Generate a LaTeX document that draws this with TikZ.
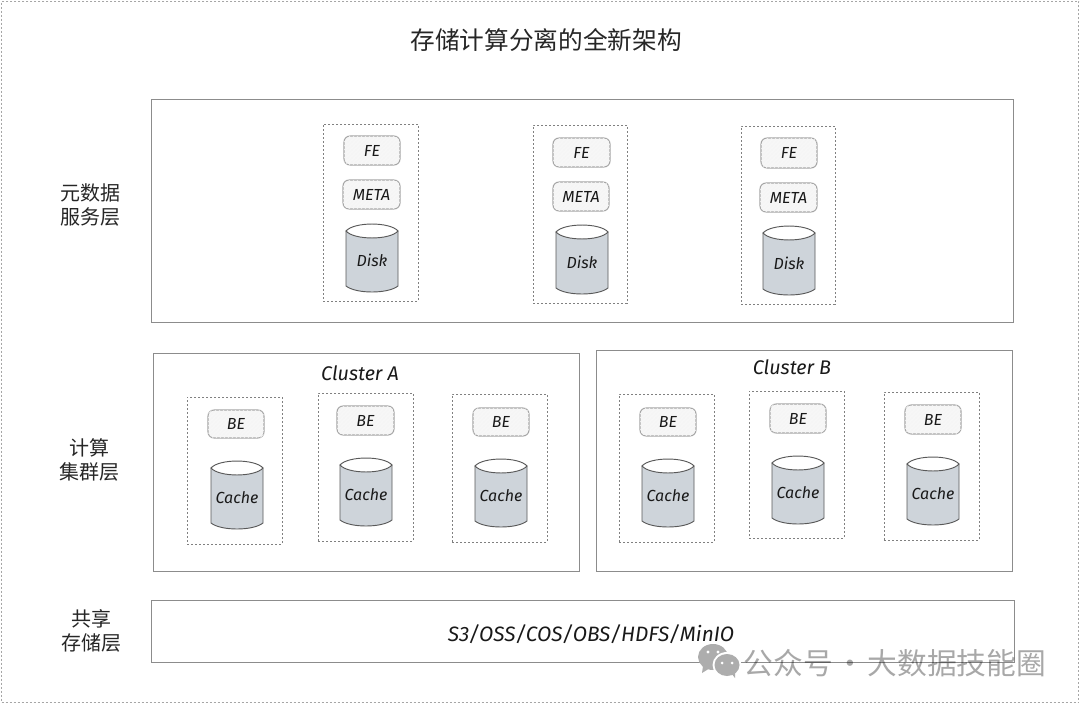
\documentclass[tikz,border=0pt]{standalone}
\usepackage{fontspec}
\usetikzlibrary{patterns}
\setmainfont{Fira Sans}
\newfontfamily\cjk{Noto Sans CJK SC}
\tikzset{x=0.75pt,y=-0.75pt,
  title/.style={font=\cjk\fontsize{18.5}{22}\selectfont,text=black!85,inner sep=0},
  layerlabel/.style={font=\cjk\fontsize{15}{18.2}\selectfont,text=black!85,align=center,inner sep=0},
  panel/.style={draw=black!45,line width=0.75pt,fill=white},
  groupbox/.style={draw=black!50,line width=0.5pt,dash pattern=on 1.5pt off 1.5pt},
  svc/.style={draw=black!35,line width=0.8pt,rounded corners=4.5pt,fill=black!3,postaction={pattern=north east lines,pattern color=black!4}},
  hand/.style={font=\itshape\fontsize{12}{14}\selectfont,text=black!90,inner sep=0},
  handbig/.style={font=\itshape\fontsize{14.8}{16}\selectfont,text=black!90,inner sep=0},
  cylbody/.style={draw=black!65,line width=0.7pt,fill=cylfill},
  wm/.style={font=\cjk\fontsize{22.3}{24}\selectfont,text=black,opacity=.34,inner sep=0}
}
\definecolor{cylfill}{HTML}{CED4DA}
% name, x0, y0, x1, y1, text
\newcommand{\svcbox}[6]{\node[svc,minimum width=#4*0.75pt-#2*0.75pt,minimum height=#5*0.75pt-#3*0.75pt,inner sep=0,hand] (#1) at ({(#2+#4)/2},{(#3+#5)/2}) {#6};}
% name, x0, top, x1, bottom, text
\newcommand{\cyl}[6]{%
  \path[cylbody] (#2,#3+7) -- (#2,#5-6) .. controls (#2+10,#5+2) and (#4-10,#5+2) .. (#4,#5-6) -- (#4,#3+7) -- cycle;
  \path[draw=black!65,line width=0.7pt,fill=white] (#2,#3+7) .. controls (#2+8,#3-2.3) and (#4-8,#3-2.3) .. (#4,#3+7) .. controls (#4-8,#3+16.3) and (#2+8,#3+16.3) .. (#2,#3+7) -- cycle;
  \node[hand] (#1) at ({(#2+#4)/2},{(#3+#5)/2+2.5}) {#6};}
\newcommand{\grp}[5]{\node[groupbox,minimum width=#4*0.75pt-#2*0.75pt,minimum height=#5*0.75pt-#3*0.75pt,inner sep=0] (#1) at ({(#2+#4)/2},{(#3+#5)/2}) {};}
\newcommand{\pnl}[5]{\node[panel,minimum width=#4*0.75pt-#2*0.75pt,minimum height=#5*0.75pt-#3*0.75pt,inner sep=0] (#1) at ({(#2+#4)/2},{(#3+#5)/2}) {};}
\begin{document}
\begin{tikzpicture}
\useasboundingbox (0,0) rectangle (1080,706);
\fill[white] (0,0) rectangle (1080,706);
\node[groupbox,draw=black!35,minimum width=1077*0.75pt,minimum height=701*0.75pt,inner sep=0] (outer) at (540,352) {};
\node[title] (ttl) at (546,40) {存储计算分离的全新架构};
\node[layerlabel] (l1) at (90,205) {元数据\\服务层};
\node[layerlabel] (l2) at (89,460) {计算\\集群层};
\node[layerlabel] (l3) at (91,631) {共享\\存储层};
\pnl{meta}{151}{100}{1013}{322}
\pnl{ca}{153}{353}{579}{571}
\pnl{cb}{596}{350}{1012}{571}
\pnl{store}{151}{600}{1014}{662}
% metadata groups
\grp{m1}{323}{124}{418}{301}
\svcbox{fe1}{344}{136}{400}{165}{FE}
\svcbox{mt1}{343}{180}{400}{209}{META}
\cyl{d1}{346}{224}{398}{292}{Disk}
\grp{m2}{533}{125}{627}{303}
\svcbox{fe2}{553}{138}{610}{167}{FE}
\svcbox{mt2}{553}{182}{609}{211}{META}
\cyl{d2}{556}{225}{608}{294}{Disk}
\grp{m3}{741}{126}{835}{304}
\svcbox{fe3}{761}{138}{817}{168}{FE}
\svcbox{mt3}{760}{183}{817}{212}{META}
\cyl{d3}{763}{226}{815}{295}{Disk}
% clusters
\node[handbig] (cal) at (360,373) {Cluster A};
\node[handbig] (cbl) at (792,367) {Cluster B};
\grp{a1}{187}{397}{282}{544}
\svcbox{bea1}{208}{410}{264}{438}{BE}
\cyl{ca1}{211}{461}{263}{529}{Cache}
\grp{a2}{318}{393}{413}{541}
\svcbox{bea2}{337}{406}{394}{435}{BE}
\cyl{ca2}{340}{458}{392}{526}{Cache}
\grp{a3}{452}{394}{547}{542}
\svcbox{bea3}{473}{408}{529}{436}{BE}
\cyl{ca3}{475}{459}{527}{527}{Cache}
\grp{b1}{619}{394}{714}{542}
\svcbox{beb1}{640}{408}{696}{436}{BE}
\cyl{cb1}{642}{459}{694}{527}{Cache}
\grp{b2}{749}{391}{844}{538}
\svcbox{beb2}{770}{404}{826}{433}{BE}
\cyl{cb2}{772}{456}{824}{524}{Cache}
\grp{b3}{884}{392}{979}{540}
\svcbox{beb3}{905}{405}{961}{434}{BE}
\cyl{cb3}{907}{457}{959}{525}{Cache}
\node[handbig,font=\itshape\fontsize{15.6}{16}\selectfont] (st) at (591,634) {S3/OSS/COS/OBS/HDFS/MinIO};
% watermark
\fill[black!32] (713,657) ellipse (15 and 13);
\fill[black!32] (703,666) -- (702,673) -- (710,668) -- cycle;
\fill[white] (727,665) ellipse (14.5 and 13);
\fill[black!32] (727,665) ellipse (12.5 and 11);
\fill[black!32] (731,673) -- (735,678) -- (735,671) -- cycle;
\fill[white] (708,652) circle (1.7) (718,652) circle (1.7) (722,663) circle (1.5) (732,663) circle (1.5);
\node[wm] (wmt) at (895,663) {公众号\hspace{.08em}·\hspace{.08em}大数据技能圈};
\end{tikzpicture}
\end{document}
